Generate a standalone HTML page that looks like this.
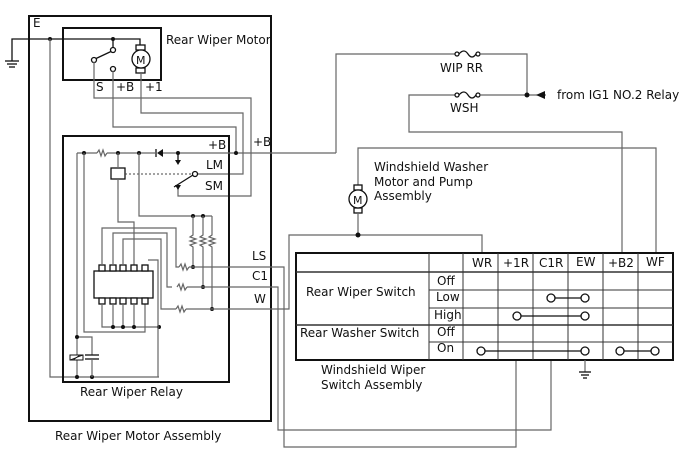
<!DOCTYPE html>
<html><head><meta charset="utf-8"><style>
html,body{margin:0;padding:0;background:#fff}
svg{display:block}
text{font-family:"DejaVu Sans","Liberation Sans",sans-serif;font-size:12px;fill:#111}
.w{fill:none;stroke:#666;stroke-width:1.2}
.k{fill:none;stroke:#111;stroke-width:1.3}
.b{fill:none;stroke:#111;stroke-width:2}
.d{fill:#111}
.c{fill:#fff;stroke:#111;stroke-width:1.3}
</style></head><body>
<svg width="688" height="463" viewBox="0 0 688 463" xmlns="http://www.w3.org/2000/svg">
<!-- outer assembly -->
<rect class="b" x="29" y="16" width="242" height="405"/>
<text x="33" y="27">E</text>
<text x="55" y="440">Rear Wiper Motor Assembly</text>
<!-- motor box -->
<rect class="b" x="63" y="28" width="98" height="52"/>
<text x="166" y="44">Rear Wiper Motor</text>
<polyline class="k" points="12,61 12,39 140,39 140,45"/>
<line class="k" x1="5" y1="61" x2="19" y2="61"/><line class="k" x1="7" y1="64" x2="17" y2="64"/><line class="k" x1="9" y1="67" x2="15" y2="67"/>
<circle class="d" cx="50" cy="39" r="2"/><circle class="d" cx="113" cy="39" r="2"/>
<line class="k" x1="113" y1="39" x2="113" y2="48"/>
<line class="k" x1="95" y1="59" x2="112" y2="51"/>
<circle class="c" cx="113" cy="50" r="2.5"/><circle class="c" cx="94" cy="60" r="2.5"/><circle class="c" cx="113" cy="69" r="2.5"/>
<rect class="c" x="136" y="45" width="9" height="5"/><rect class="c" x="136" y="68" width="9" height="5"/>
<circle class="c" cx="141" cy="59" r="9"/><text x="136" y="64" style="font-size:11px">M</text>
<text x="96" y="91">S</text><text x="116" y="91">+B</text><text x="145" y="91">+1</text>
<!-- E line -->
<polyline class="w" points="50,39 50,377 159,377"/>
<!-- motor wires -->
<polyline class="w" points="94,62 94,98 251,98 251,196 178,196 178,188"/>
<polyline class="w" points="113,71 113,127 236,127 236,153"/>
<polyline class="w" points="141,73 141,113 243,113 243,174 197,174"/>
<!-- relay box -->
<rect class="b" x="63" y="136" width="166" height="246"/>
<text x="80" y="396">Rear Wiper Relay</text>
<text x="208" y="149">+B</text><text x="253" y="146">+B</text>
<text x="206" y="169">LM</text><text x="205" y="190">SM</text>
<text x="252" y="260">LS</text><text x="252" y="280">C1</text><text x="254" y="303">W</text>
<!-- +B line -->
<polyline class="w" points="77,153 97,153"/>
<polyline class="w" points="97,153 99,150 101,156 103,150 105,156 107,153"/>
<line class="w" x1="107" y1="153" x2="155" y2="153"/>
<line class="w" x1="163" y1="153" x2="336" y2="153"/>
<line class="k" x1="156" y1="149" x2="156" y2="157"/><polygon class="d" points="157,153 163,149 163,157"/>
<polyline class="w" points="336,153 336,54 455,54"/>
<circle class="d" cx="84" cy="153" r="2"/><circle class="d" cx="118" cy="153" r="2"/><circle class="d" cx="139" cy="153" r="2"/><circle class="d" cx="178" cy="153" r="2"/><circle class="d" cx="236" cy="153" r="2"/>
<line class="k" x1="178" y1="153" x2="178" y2="161"/><polygon class="d" points="175,160 181,160 178,165"/>
<!-- switch -->
<line class="k" x1="174" y1="187" x2="193" y2="175"/><circle class="c" cx="195" cy="174" r="2.5"/>
<polygon class="d" points="175,185 181,185 178,190"/>
<!-- coil -->
<rect class="c" x="111" y="168" width="14" height="11"/>
<line x1="125" y1="174" x2="193" y2="174" stroke="#444" stroke-width="1" stroke-dasharray="2,2"/>
<polyline class="w" points="118,153 118,168"/>
<polyline class="w" points="118,179 118,222 134,222 134,265"/>
<polyline class="w" points="84,153 84,332 145,332 145,304"/>
<polyline class="w" points="77,153 77,337 92,337 92,355"/>
<line class="w" x1="77" y1="337" x2="77" y2="377"/>
<circle class="d" cx="77" cy="337" r="2"/><circle class="d" cx="77" cy="377" r="2"/><circle class="d" cx="92" cy="377" r="2"/>
<line class="k" x1="85" y1="355" x2="99" y2="355"/><line class="k" x1="85" y1="359" x2="99" y2="359"/><line class="w" x1="92" y1="359" x2="92" y2="377"/>
<rect x="70" y="355" width="13" height="5" fill="#fff" stroke="#111" stroke-width="1"/>
<line x1="70" y1="360" x2="83" y2="355" stroke="#111" stroke-width="0.8"/><line x1="73" y1="360" x2="80" y2="355" stroke="#111" stroke-width="0.8"/>
<!-- IC -->
<rect class="c" x="94" y="271" width="59" height="27"/>
<g class="c">
<rect x="99" y="265" width="6" height="6"/><rect x="110" y="265" width="6" height="6"/><rect x="120" y="265" width="6" height="6"/><rect x="131" y="265" width="6" height="6"/><rect x="142" y="265" width="6" height="6"/>
<rect x="99" y="298" width="6" height="6"/><rect x="110" y="298" width="6" height="6"/><rect x="120" y="298" width="6" height="6"/><rect x="131" y="298" width="6" height="6"/><rect x="142" y="298" width="6" height="6"/>
</g>
<polyline class="w" points="102,304 102,327 159,327"/>
<line class="w" x1="113" y1="304" x2="113" y2="327"/><line class="w" x1="123" y1="304" x2="123" y2="327"/><line class="w" x1="134" y1="304" x2="134" y2="327"/>
<circle class="d" cx="113" cy="327" r="2"/><circle class="d" cx="123" cy="327" r="2"/><circle class="d" cx="134" cy="327" r="2"/><circle class="d" cx="159" cy="327" r="2"/>
<polyline class="w" points="148,260 158,260 158,377"/>
<polyline class="w" points="102,265 102,228 176,228 176,267 179,267"/>
<polyline class="w" points="113,265 113,233 167,233 167,287 172,287"/>
<polyline class="w" points="123,265 123,239 161,239 161,309 176,309"/>
<polyline class="w" points="179,267 181,264 183,270 185,264 187,270 189,267"/>
<polyline class="w" points="177,287 179,284 181,290 183,284 185,290 187,287"/>
<polyline class="w" points="176,309 178,306 180,312 182,306 184,312 186,309"/>
<polyline class="w" points="139,153 139,216 212,216"/>
<circle class="d" cx="193" cy="216" r="2"/><circle class="d" cx="203" cy="216" r="2"/>
<polyline class="w" points="193,216 193,235 190,237 196,239 190,241 196,243 190,245 193,247 193,267"/>
<polyline class="w" points="203,216 203,235 200,237 206,239 200,241 206,243 200,245 203,247 203,287"/>
<polyline class="w" points="212,216 212,235 209,237 215,239 209,241 215,243 209,245 212,247 212,309"/>
<circle class="d" cx="193" cy="267" r="2"/><circle class="d" cx="203" cy="287" r="2"/><circle class="d" cx="212" cy="309" r="2"/>
<!-- output wires -->
<polyline class="w" points="189,267 284,267 284,447 516,447 516,360"/>
<polyline class="w" points="187,287 278,287 278,430 551,430 551,360"/>
<polyline class="w" points="186,309 289,309 289,235 482,235 482,253"/>
<!-- fuses -->
<circle class="c" cx="457" cy="54" r="2"/><circle class="c" cx="478" cy="54" r="2"/>
<path class="k" d="M459,54 Q464,48 468,54 Q472,60 476,54"/>
<polyline class="w" points="480,54 527,54 527,95"/>
<text x="440" y="72">WIP RR</text>
<polyline class="w" points="622,253 622,132 409,132 409,95 455,95"/>
<circle class="c" cx="457" cy="95" r="2"/><circle class="c" cx="478" cy="95" r="2"/>
<path class="k" d="M459,95 Q464,89 468,95 Q472,101 476,95"/>
<line class="w" x1="480" y1="95" x2="546" y2="95"/>
<circle class="d" cx="527" cy="95" r="2.5"/>
<polygon class="d" points="536,95 545,91 545,99"/>
<text x="557" y="99">from IG1 NO.2 Relay</text>
<text x="450" y="112">WSH</text>
<!-- washer motor -->
<polyline class="w" points="656,253 656,148 358,148 358,185"/>
<rect class="c" x="354" y="185" width="8" height="5"/><rect class="c" x="354" y="208" width="8" height="5"/>
<circle class="c" cx="358" cy="199" r="9"/><text x="353" y="204" style="font-size:11px">M</text>
<line class="w" x1="358" y1="213" x2="358" y2="235"/><circle class="d" cx="358" cy="235" r="2.5"/>
<text x="374" y="171">Windshield Washer</text><text x="374" y="186">Motor and Pump</text><text x="374" y="200">Assembly</text>
<!-- table -->
<rect class="b" x="296" y="253" width="377" height="107"/>
<g stroke="#333" stroke-width="1">
<line x1="429" y1="253" x2="429" y2="360"/>
<line x1="463" y1="253" x2="463" y2="360"/><line x1="498" y1="253" x2="498" y2="360"/><line x1="533" y1="253" x2="533" y2="360"/><line x1="568" y1="253" x2="568" y2="360"/><line x1="603" y1="253" x2="603" y2="360"/><line x1="638" y1="253" x2="638" y2="360"/>
<line x1="429" y1="290" x2="673" y2="290"/><line x1="429" y1="308" x2="673" y2="308"/><line x1="429" y1="342" x2="673" y2="342"/>
</g>
<line x1="296" y1="272" x2="673" y2="272" stroke="#333" stroke-width="1.6"/>
<line x1="296" y1="325" x2="673" y2="325" stroke="#333" stroke-width="1.6"/>
<text x="472" y="267">WR</text><text x="503" y="267">+1R</text><text x="539" y="267">C1R</text><text x="576" y="266">EW</text><text x="608" y="267">+B2</text><text x="646" y="266">WF</text>
<text x="306" y="296">Rear Wiper Switch</text>
<text x="300" y="337">Rear Washer Switch</text>
<text x="437" y="285">Off</text><text x="436" y="301">Low</text><text x="434" y="319">High</text><text x="437" y="336">Off</text><text x="437" y="352">On</text>
<line class="k" x1="551" y1="298" x2="585" y2="298"/><circle class="c" cx="551" cy="298" r="4"/><circle class="c" cx="585" cy="298" r="4"/>
<line class="k" x1="517" y1="316" x2="585" y2="316"/><circle class="c" cx="517" cy="316" r="4"/><circle class="c" cx="585" cy="316" r="4"/>
<line class="k" x1="481" y1="351" x2="585" y2="351"/><circle class="c" cx="481" cy="351" r="4"/><circle class="c" cx="585" cy="351" r="4"/>
<line class="k" x1="620" y1="351" x2="655" y2="351"/><circle class="c" cx="620" cy="351" r="4"/><circle class="c" cx="655" cy="351" r="4"/>
<line class="w" x1="585" y1="360" x2="585" y2="372"/>
<line class="k" x1="579" y1="372" x2="591" y2="372"/><line class="k" x1="581" y1="375" x2="589" y2="375"/><line class="k" x1="583" y1="378" x2="587" y2="378"/>
<text x="321" y="374">Windshield Wiper</text><text x="321" y="389">Switch Assembly</text>
</svg>
</body></html>
